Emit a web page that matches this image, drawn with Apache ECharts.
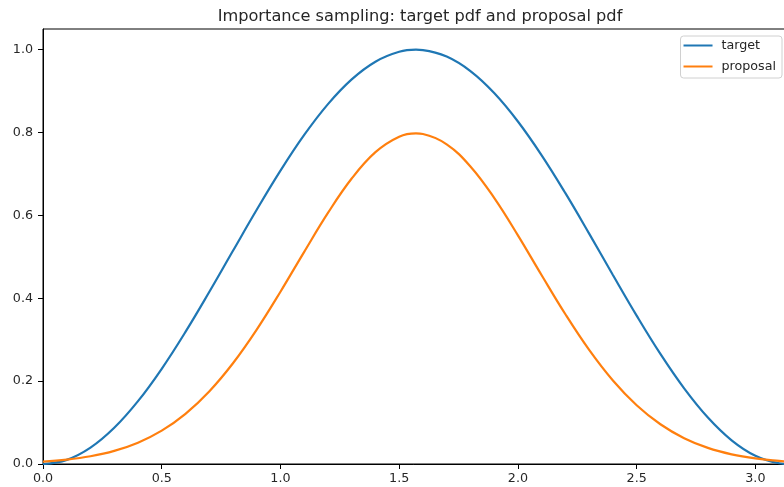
<!DOCTYPE html>
<html>
<head>
<meta charset="utf-8">
<script src="https://cdn.jsdelivr.net/npm/echarts@6/dist/echarts.min.js"></script>
<style>
  html, body { margin: 0; padding: 0; background: #fff; }
  #chart { width: 784px; height: 487px; }
</style>
</head>
<body>
<div id="chart"></div>
<script>
// Sample positions on [0, pi]
const xs = [0, 0.1, 0.2, 0.3, 0.4, 0.5, 0.6, 0.7, 0.8, 0.9, 1.0, 1.1, 1.2, 1.3, 1.4, 1.5, 1.5708,
            1.6, 1.7, 1.8, 1.9, 2.0, 2.1, 2.2, 2.3, 2.4, 2.5, 2.6, 2.7, 2.8, 2.9, 3.0, 3.1, 3.1416];

// Target density values
const target = [0, 0.00997, 0.03947, 0.08733, 0.15165, 0.22985, 0.31882, 0.41502, 0.51460, 0.61360,
                0.70807, 0.79425, 0.86870, 0.92844, 0.97111, 0.99499, 1.0,
                0.99915, 0.98339, 0.94838, 0.89548, 0.82682, 0.74513, 0.65368, 0.55609, 0.45625,
                0.35817, 0.26574, 0.18266, 0.11222, 0.05724, 0.01991, 0.00173, 0];

// Proposal density values
const proposal = [0.00574, 0.01054, 0.01862, 0.03158, 0.05144, 0.08053, 0.12114, 0.17510, 0.24316, 0.32441,
                  0.41584, 0.51214, 0.60606, 0.68904, 0.75266, 0.78992, 0.79788,
                  0.79652, 0.77168, 0.71830, 0.64240, 0.55199, 0.45569, 0.36146, 0.27547, 0.20170,
                  0.14191, 0.09593, 0.06229, 0.03886, 0.02330, 0.01342, 0.00742, 0.00574];

const xTicks = [0, 0.5, 1.0, 1.5, 2.0, 2.5, 3.0];
const yTicks = [0, 0.2, 0.4, 0.6, 0.8, 1.0];

const pair = (ys) => xs.map((x, i) => [x, ys[i]]);

const FONT = 'DejaVu Sans';
const TEXT = '#262626';

const chart = echarts.init(document.getElementById('chart'), null, { renderer: 'canvas' });
chart.setOption({
  animation: false,
  backgroundColor: '#ffffff',
  title: {
    text: 'Importance sampling: target pdf and proposal pdf',
    left: 415,
    top: 4,
    textAlign: 'center',
    textStyle: { fontFamily: FONT, fontSize: 16.2, fontWeight: 'normal', color: TEXT }
  },
  legend: {
    orient: 'vertical',
    right: 2,
    top: 36,
    data: ['target', 'proposal'],
    icon: 'rect',
    itemWidth: 29,
    itemHeight: 2,
    itemGap: 8,
    padding: [3, 6, 5, 3],
    backgroundColor: '#ffffff',
    borderColor: '#d0d0d0',
    borderWidth: 1,
    borderRadius: 3,
    textStyle: { fontFamily: FONT, fontSize: 12.7, color: TEXT, padding: [0, 0, 0, 4] }
  },
  grid: {
    left: 43,
    width: 746,
    top: 29,
    height: 435,
    outerBoundsMode: 'none',
    containLabel: false,
    show: true,
    borderColor: '#000',
    borderWidth: 1,
    backgroundColor: 'transparent'
  },
  xAxis: {
    type: 'value',
    min: 0,
    max: Math.PI,
    axisLine: { show: true, lineStyle: { color: '#000', width: 1 } },
    axisTick: { show: true, length: 5, lineStyle: { color: '#000' }, customValues: xTicks },
    axisLabel: {
      customValues: xTicks,
      formatter: (v) => v.toFixed(1),
      fontFamily: FONT, fontSize: 12.7, color: TEXT, margin: 8
    },
    splitLine: { show: false }
  },
  yAxis: {
    type: 'value',
    min: 0,
    max: 1.05,
    axisLine: { show: true, lineStyle: { color: '#000', width: 1 } },
    axisTick: { show: true, length: 5, lineStyle: { color: '#000' }, customValues: yTicks },
    axisLabel: {
      customValues: yTicks,
      formatter: (v) => v.toFixed(1),
      fontFamily: FONT, fontSize: 12.7, color: TEXT, margin: 10
    },
    splitLine: { show: false }
  },
  series: [
    {
      name: 'target',
      type: 'line',
      data: pair(target),
      smooth: 0.4,
      showSymbol: false,
      color: '#1f77b4',
      lineStyle: { width: 2.2, color: '#1f77b4' },
      clip: true
    },
    {
      name: 'proposal',
      type: 'line',
      data: pair(proposal),
      smooth: 0.4,
      showSymbol: false,
      color: '#ff7f0e',
      lineStyle: { width: 2.2, color: '#ff7f0e' },
      clip: true
    }
  ]
});
</script>
</body>
</html>
